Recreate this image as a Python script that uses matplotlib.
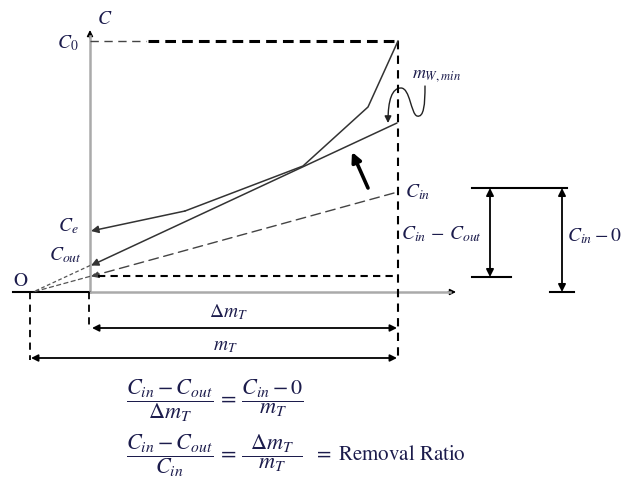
import matplotlib
matplotlib.use("Agg")
import matplotlib.pyplot as plt
from matplotlib.patches import FancyArrowPatch
from matplotlib.path import Path

plt.rcParams['mathtext.fontset'] = 'stix'
plt.rcParams['font.family'] = 'STIXGeneral'

# --- diagram geometry (canvas units, y grows downward) ---
origin = (33, 292)              # point O where operating lines meet the mass axis
axis_x = 90                     # concentration axis position
axis_y = 292                    # mass axis position
c0_level = 41                   # C0
cout_level = 276                # Cout / Cin line crossing level
right_edge = 398                # end of treatment (m_T)
axis_top = 30
axis_right = 456

# breakthrough-type curve down to Ce
curve_x = [398, 368, 303, 185, 91]
curve_y = [41, 107, 166, 211, 231]

# minimum-water operating line end (on right edge) and Cin line end
op_end = (397, 123)
cin_end = (394, 193)

# bold arrow showing the line rotating upward
rot_arrow = [(368, 188), (352, 152)]

# curl arrow labelled m_W,min (Bezier vertices)
curl_verts = [(425, 86), (425, 104), (424, 118), (417, 116),
              (411, 114), (410, 88), (401, 88),
              (392, 88), (388, 100), (388, 123)]

# bracket on the right
bracket_top = 188
bar_left, bar_right = 472, 567
arrow1_x, arrow1_bottom = 490, 277
arrow2_x, arrow2_bottom = 562, 292

dm_y = 328
m_y = 358

ink = '#1c1c4c'
line_c = '#333333'

fig = plt.figure(figsize=(6.29, 4.79), dpi=100)
ax = fig.add_axes([0, 0, 1, 1])
ax.set_xlim(0, 629)
ax.set_ylim(479, 0)
ax.axis('off')


def arrow(p_from, p_to, style='-|>', lw=1.0, color='black', ms=10, ls='-'):
    a = FancyArrowPatch(p_from, p_to, arrowstyle=style, mutation_scale=ms,
                        lw=lw, color=color, linestyle=ls,
                        shrinkA=0, shrinkB=0)
    ax.add_patch(a)


# axes
ax.plot([axis_x, axis_x], [axis_y, axis_top + 6], color='#aaaaaa', lw=1.8)
arrow((axis_x, axis_top + 8), (axis_x, axis_top), ms=9)
ax.plot([13, axis_x], [axis_y, axis_y], color='black', lw=1.5)
ax.plot([axis_x, axis_right - 6], [axis_y, axis_y], color='#aaaaaa', lw=1.8)
arrow((axis_right - 8, axis_y), (axis_right, axis_y), ms=9)

# bounding dashed rectangle
ax.plot([axis_x, 146], [c0_level, c0_level], color='#444444', lw=1.0,
        dashes=(6, 4))
ax.plot([148, right_edge], [c0_level, c0_level], color='black', lw=2.2,
        dashes=(3.5, 2))
ax.plot([right_edge, right_edge], [c0_level, m_y + 2], color='black', lw=1.5,
        dashes=(4, 3))
ax.plot([axis_x + 8, right_edge], [cout_level, cout_level], color='black',
        lw=1.5, dashes=(3.5, 2.5))

# breakthrough curve ending at Ce
ax.plot(curve_x[:-1], curve_y[:-1], color=line_c, lw=1.1)
arrow((curve_x[-2], curve_y[-2]), (curve_x[-1], curve_y[-1]), color=line_c,
      lw=1.1, ms=11)


def on_line(p, x):
    return origin[1] + (p[1] - origin[1]) * (x - origin[0]) / (p[0] - origin[0])


# operating line through O
y_op_axis = on_line(op_end, axis_x)
arrow(op_end, (axis_x + 1, y_op_axis), color=line_c, lw=1.1, ms=11)
ax.plot([axis_x, origin[0]], [y_op_axis, origin[1]], color='#555555', lw=0.9,
        dashes=(3, 2))

# Cin line through O
y_cin_axis = on_line(cin_end, axis_x)
arrow(cin_end, (axis_x + 1, y_cin_axis), color='#444444', lw=1.0, ms=11,
      ls=(0, (7, 4)))
ax.plot([axis_x, origin[0]], [y_cin_axis, origin[1]], color='#555555', lw=0.9,
        dashes=(4, 2))

# rotation arrow
arrow(rot_arrow[0], rot_arrow[1], lw=2.6, ms=14)

# curl arrow
codes = [Path.MOVETO] + [Path.CURVE4] * 9
curl = FancyArrowPatch(path=Path(curl_verts, codes), arrowstyle='-|>',
                       mutation_scale=10, lw=1.0, color='#222222')
ax.add_patch(curl)

# right bracket
ax.plot([bar_left, bar_right], [bracket_top, bracket_top], color='black', lw=1.5)
ax.plot([bar_left, 511], [arrow1_bottom, arrow1_bottom], color='black', lw=1.5)
ax.plot([550, 574], [arrow2_bottom, arrow2_bottom], color='black', lw=1.5)
arrow((arrow1_x, bracket_top), (arrow1_x, arrow1_bottom), style='<|-|>',
      lw=1.3, ms=11)
arrow((arrow2_x, bracket_top), (arrow2_x, arrow2_bottom), style='<|-|>',
      lw=1.3, ms=11)

# dimension lines below the axis
ax.plot([origin[0] - 3, origin[0] - 3], [axis_y, m_y + 2], color='black',
        lw=1.3, dashes=(4, 3))
ax.plot([axis_x - 1, axis_x - 1], [axis_y, dm_y + 2], color='black', lw=1.3,
        dashes=(4, 3))
arrow((axis_x + 2, dm_y), (right_edge - 1, dm_y), style='<|-|>', lw=1.3, ms=10)
arrow((origin[0] - 2, m_y), (right_edge - 1, m_y), style='<|-|>', lw=1.3, ms=10)

# labels
fs = 14
ax.text(97, 19, r'$C$', fontsize=fs, color=ink, ha='left', va='center')
ax.text(79, 43, r'$C_0$', fontsize=fs, color=ink, ha='right', va='center')
ax.text(79, 226, r'$C_e$', fontsize=fs, color=ink, ha='right', va='center')
ax.text(82, 255, r'$C_{out}$', fontsize=fs, color=ink, ha='right', va='center')
ax.text(20, 281, 'O', fontsize=fs, color=ink, ha='center', va='center')
ax.text(412, 76, r'$m_{W,min}$', fontsize=13, color=ink, ha='left',
        va='center')
ax.text(405, 192, r'$C_{in}$', fontsize=fs, color=ink, ha='left', va='center')
ax.text(401, 234, r'$C_{in}\,-\,C_{out}$', fontsize=fs, color=ink, ha='left',
        va='center')
ax.text(567, 236, r'$C_{in}-0$', fontsize=fs, color=ink, ha='left',
        va='center')
ax.text(228, 312, r'$\Delta m_T$', fontsize=fs, color=ink, ha='center',
        va='center')
ax.text(225, 346, r'$m_T$', fontsize=fs, color=ink, ha='center', va='center')

eq_fs = 16
ax.text(126, 401,
        r'$\dfrac{C_{in}-C_{out}}{\Delta m_T}\,=\,\dfrac{C_{in}-0}{m_T}$',
        fontsize=eq_fs, color=ink, ha='left', va='center')
ax.text(126, 456,
        r'$\dfrac{C_{in}-C_{out}}{C_{in}}\,=\,\dfrac{\;\;\Delta m_T\;\;}{m_T}$',
        fontsize=eq_fs, color=ink, ha='left', va='center')
ax.text(313, 455, r'$=$ Removal Ratio', fontsize=15, color=ink, ha='left',
        va='center')

fig.savefig('out.png', dpi=100)
